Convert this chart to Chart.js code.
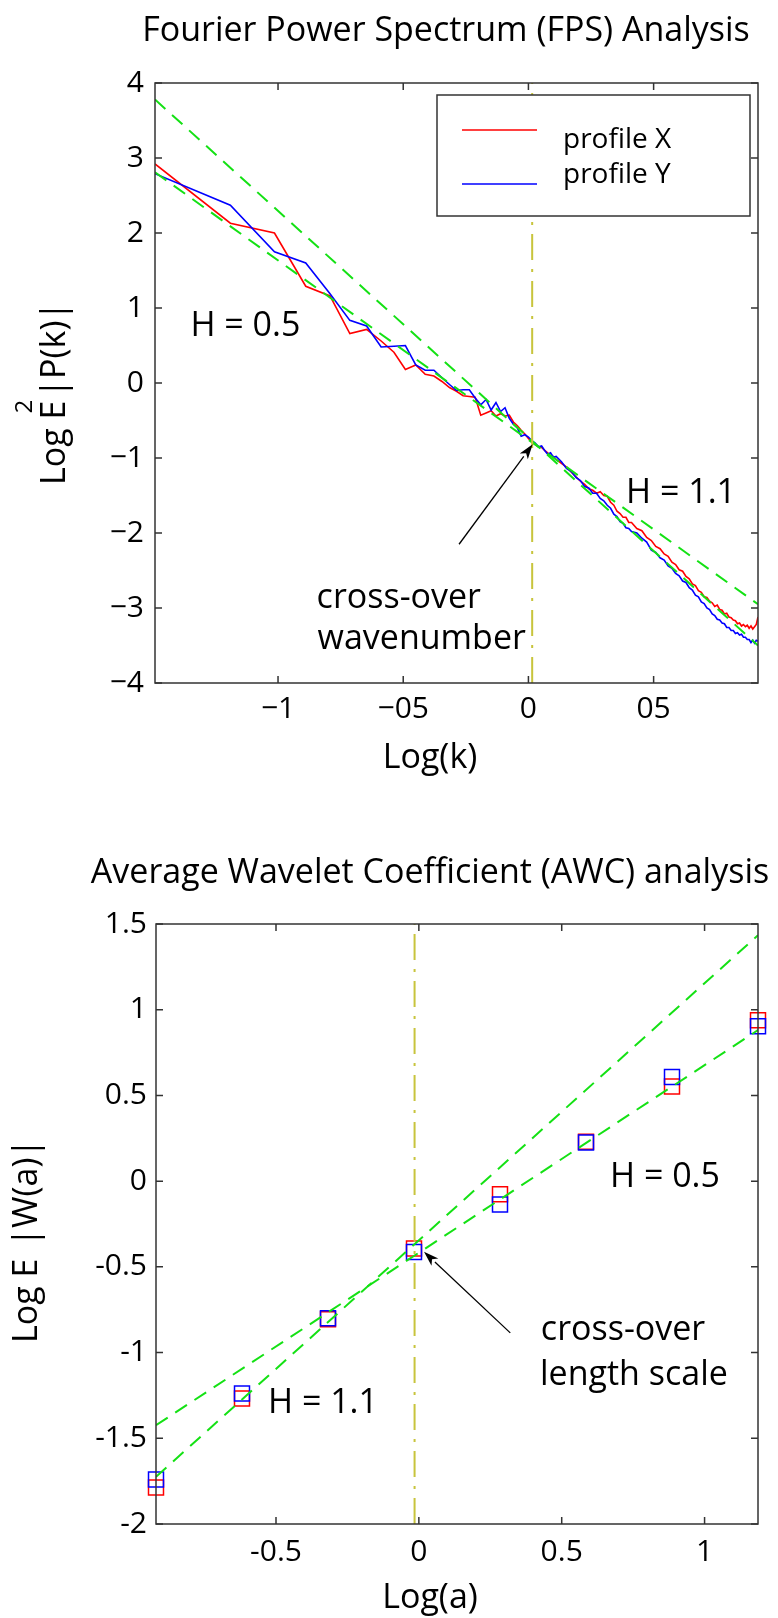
<!DOCTYPE html>
<html>
<head>
<meta charset="utf-8">
<title>FPS and AWC analysis</title>
<script src="https://cdn.jsdelivr.net/npm/chart.js@4.4.1/dist/chart.umd.min.js"></script>
<style>
  html, body { margin: 0; padding: 0; background: #fff; }
  #wrap { position: relative; width: 778px; height: 1618px; }
  canvas { position: absolute; left: 0; }
  #fps { top: 0; width: 778px; height: 790px; }
  #awc { top: 790px; width: 778px; height: 828px; }
</style>
</head>
<body>
<div id="wrap">
  <canvas id="fps" width="778" height="790"></canvas>
  <canvas id="awc" width="778" height="828"></canvas>
</div>
<script>
// ---- Fourier power spectrum: wavenumber index n, k = n / 31 ----
const waveIndex = [1, 2, 3, 4, 5, 6, 7, 8, 9, 10, 11, 12, 13, 14, 15, 16, 17, 18, 19, 20,
  21, 22, 23, 24, 25, 26, 27, 28, 29, 30, 31, 32, 33, 34, 35, 36, 37, 38, 39, 40,
  42, 44, 46, 48, 50, 52, 54, 56, 58, 60, 62, 64, 66, 68, 70, 72, 74, 76, 78, 80,
  84, 88, 92, 96, 100, 104, 108, 112, 116, 120, 124, 128, 132, 136, 140, 144, 148, 152, 156, 160,
  164, 168, 172, 176, 180, 184, 188, 192, 196, 200, 204, 208, 212, 216, 220, 224, 228, 232, 236, 240,
  244, 248, 252, 256];

const profileX = [2.92, 2.13, 2.00, 1.29, 1.16, 0.66, 0.715, 0.56, 0.41, 0.18,
  0.24, 0.115, 0.093, 0.02, -0.06, -0.11, -0.17, -0.18, -0.19, -0.43,
  -0.40, -0.37, -0.44, -0.41, -0.44, -0.43, -0.52, -0.57, -0.63, -0.68,
  -0.74, -0.79, -0.82, -0.85, -0.86, -0.90, -0.93, -0.97, -0.98, -1.02,
  -1.07, -1.12, -1.19, -1.25, -1.31, -1.35, -1.41, -1.43, -1.47, -1.45,
  -1.50, -1.51, -1.59, -1.63, -1.71, -1.74, -1.79, -1.79, -1.86, -1.86,
  -1.94, -1.97, -2.06, -2.10, -2.18, -2.21, -2.28, -2.31, -2.39, -2.42,
  -2.49, -2.51, -2.58, -2.61, -2.68, -2.70, -2.77, -2.79, -2.85, -2.86,
  -2.91, -2.93, -2.98, -2.96, -3.02, -3.03, -3.08, -3.07, -3.12, -3.13,
  -3.16, -3.17, -3.21, -3.20, -3.24, -3.22, -3.25, -3.23, -3.27, -3.24,
  -3.28, -3.25, -3.22, -3.12];

const profileY = [2.79, 2.37, 1.75, 1.60, 1.19, 0.835, 0.76, 0.48, 0.49, 0.50,
  0.24, 0.17, 0.17, 0.07, -0.02, -0.10, -0.09, -0.09, -0.20, -0.29,
  -0.22, -0.36, -0.26, -0.38, -0.33, -0.47, -0.55, -0.60, -0.71, -0.69,
  -0.72, -0.77, -0.80, -0.85, -0.84, -0.90, -0.95, -0.93, -0.99, -0.98,
  -1.05, -1.14, -1.18, -1.26, -1.30, -1.38, -1.40, -1.47, -1.47, -1.54,
  -1.57, -1.63, -1.67, -1.75, -1.78, -1.85, -1.87, -1.93, -1.94, -1.98,
  -2.00, -2.07, -2.12, -2.23, -2.26, -2.33, -2.36, -2.44, -2.47, -2.54,
  -2.57, -2.64, -2.66, -2.73, -2.76, -2.83, -2.85, -2.92, -2.94, -3.00,
  -3.02, -3.08, -3.10, -3.15, -3.16, -3.20, -3.21, -3.26, -3.26, -3.30,
  -3.30, -3.34, -3.33, -3.36, -3.35, -3.39, -3.39, -3.42, -3.42, -3.46,
  -3.43, -3.47, -3.43, -3.44];

// fitted power laws, end points at the axis limits
const fpsFitX = [-1.4914, 0.9169];
const fpsFitSteep = [3.78, -3.50];
const fpsFitShallow = [2.81, -2.95];
const fpsCrossover = 0.015;

const fpsXTicks = [-1, -0.5, 0, 0.5];
const fpsXTickLabels = ['−1', '−05', '0', '05'];
const fpsYTicks = [-4, -3, -2, -1, 0, 1, 2, 3, 4];
const fpsYTickLabels = ['−4', '−3', '−2', '−1', '0', '1', '2', '3', '4'];

// ---- Average wavelet coefficients per scale ----
const logScale = [-0.92, -0.619, -0.318, -0.017, 0.284, 0.585, 0.886, 1.187];
const awcX = [-1.787, -1.268, -0.805, -0.393, -0.076, 0.230, 0.552, 0.939];
const awcY = [-1.740, -1.239, -0.800, -0.414, -0.136, 0.225, 0.607, 0.904];

const awcFitX = [-0.92, 1.187];
const awcFitSteep = [-1.725, 1.435];
const awcFitShallow = [-1.424, 0.881];
const awcCrossover = -0.015;

const awcXTicks = [-0.5, 0, 0.5, 1];
const awcXTickLabels = ['-0.5', '0', '0.5', '1'];
const awcYTicks = [-2, -1.5, -1, -0.5, 0, 0.5, 1, 1.5];
const awcYTickLabels = ['-2', '-1.5', '-1', '-0.5', '0', '0.5', '1', '1.5'];

// ---- styling ----
const FONT = "'Open Sans', sans-serif";
const RED = '#ff0000';
const BLUE = '#0000ff';
const GREEN = 'rgb(20, 225, 20)';
const YELLOW = 'rgb(200, 196, 60)';

const pts = (xs, ys) => xs.map((x, i) => ({ x: x, y: ys[i] }));
const logK = waveIndex.map(n => Math.log10(n / 31));

function axis(min, max, ticks, labels, pad, fit) {
  return {
    type: 'linear',
    min: min,
    max: max,
    grid: { display: false, drawTicks: false },
    border: { display: false },
    ticks: {
      color: '#000',
      font: { family: FONT, size: 30 },
      padding: pad,
      autoSkip: false,
      maxRotation: 0,
      callback: (v, i) => labels[i]
    },
    afterBuildTicks: s => { s.ticks = ticks.map(v => ({ value: v })); },
    afterFit: fit
  };
}

function drawArrow(ctx, x0, y0, x1, y1) {
  const a = Math.atan2(y1 - y0, x1 - x0);
  const len = 15, half = 5;
  const bx = x1 - len * Math.cos(a), by = y1 - len * Math.sin(a);
  ctx.beginPath();
  ctx.moveTo(x0, y0);
  ctx.lineTo(bx, by);
  ctx.stroke();
  ctx.beginPath();
  ctx.moveTo(x1, y1);
  ctx.lineTo(bx + half * Math.sin(a), by - half * Math.cos(a));
  ctx.lineTo(bx + 4 * Math.cos(a), by + 4 * Math.sin(a));
  ctx.lineTo(bx - half * Math.sin(a), by + half * Math.cos(a));
  ctx.closePath();
  ctx.fill();
}

// rotated axis title: "Log E", optional superscript over the E, then the modulus
function drawYTitle(ctx, t) {
  ctx.save();
  ctx.translate(t.x, t.y);
  ctx.rotate(-Math.PI / 2);
  ctx.textAlign = 'left';
  ctx.font = '34px ' + FONT;
  const head = 'Log E';
  const wHead = ctx.measureText(head).width;
  const wE = ctx.measureText('E').width;
  ctx.fillText(head, 0, 0);
  ctx.fillText(t.tail, wHead + t.gap, 0);
  if (t.sup) {
    ctx.font = '24px ' + FONT;
    ctx.fillText(t.sup, wHead - wE + 6, -33);
  }
  ctx.restore();
}

// box, inward ticks, annotations, titles and (optionally) a legend
function decor(cfg) {
  return {
    id: 'decor',
    afterDraw(chart) {
      const ctx = chart.ctx, a = chart.chartArea;
      const x = chart.scales.x, y = chart.scales.y;
      ctx.save();

      ctx.strokeStyle = '#333';
      ctx.lineWidth = 1.5;
      ctx.strokeRect(a.left, a.top, a.right - a.left, a.bottom - a.top);
      ctx.beginPath();
      x.ticks.forEach(t => {
        const px = x.getPixelForValue(t.value);
        ctx.moveTo(px, a.bottom); ctx.lineTo(px, a.bottom - 7);
        ctx.moveTo(px, a.top); ctx.lineTo(px, a.top + 7);
      });
      y.ticks.forEach(t => {
        const py = y.getPixelForValue(t.value);
        ctx.moveTo(a.left, py); ctx.lineTo(a.left + 7, py);
        ctx.moveTo(a.right, py); ctx.lineTo(a.right - 7, py);
      });
      ctx.stroke();

      // arrow to the cross-over point
      ctx.strokeStyle = '#000';
      ctx.fillStyle = '#000';
      ctx.lineWidth = 1.3;
      const ar = cfg.arrow;
      drawArrow(ctx, x.getPixelForValue(ar[0]), y.getPixelForValue(ar[1]),
        x.getPixelForValue(ar[2]), y.getPixelForValue(ar[3]));

      ctx.font = '34px ' + FONT;
      ctx.textBaseline = 'alphabetic';
      ctx.textAlign = 'left';
      cfg.notes.forEach(n => {
        ctx.fillText(n.text, x.getPixelForValue(n.x), y.getPixelForValue(n.y));
      });

      ctx.textAlign = 'center';
      ctx.fillText(cfg.title[0], cfg.title[1], cfg.title[2]);
      ctx.fillText(cfg.xTitle[0], cfg.xTitle[1], cfg.xTitle[2]);

      drawYTitle(ctx, cfg.yTitle);

      if (cfg.legend) {
        const bx = a.right - 321, by = a.top + 12;
        ctx.fillStyle = '#fff';
        ctx.fillRect(bx, by, 313, 121);
        ctx.strokeStyle = '#333';
        ctx.lineWidth = 1.5;
        ctx.strokeRect(bx, by, 313, 121);
        ctx.font = '28px ' + FONT;
        ctx.textAlign = 'left';
        cfg.legend.forEach(item => {
          ctx.strokeStyle = item.color;
          ctx.lineWidth = 1.6;
          ctx.beginPath();
          ctx.moveTo(bx + 25, by + item.lineY);
          ctx.lineTo(bx + 100, by + item.lineY);
          ctx.stroke();
          ctx.fillStyle = '#000';
          ctx.fillText(item.label, bx + 126, by + item.textY);
        });
      }
      ctx.restore();
    }
  };
}

const common = {
  responsive: false,
  animation: false,
  devicePixelRatio: 1,
  events: [],
  plugins: { legend: { display: false }, tooltip: { enabled: false } }
};

// ---- FPS chart ----
new Chart(document.getElementById('fps'), {
  type: 'scatter',
  data: {
    datasets: [
      { label: 'cross-over', data: pts([fpsCrossover, fpsCrossover], [-4, 4]), showLine: true,
        borderColor: YELLOW, borderWidth: 2, borderDash: [26, 9, 3, 9], pointRadius: 0, order: 0 },
      { label: 'fit H = 1.1', data: pts(fpsFitX, fpsFitSteep), showLine: true,
        borderColor: GREEN, borderWidth: 2, borderDash: [14, 9], pointRadius: 0, order: 1 },
      { label: 'fit H = 0.5', data: pts(fpsFitX, fpsFitShallow), showLine: true,
        borderColor: GREEN, borderWidth: 2, borderDash: [14, 9], pointRadius: 0, order: 1 },
      { label: 'profile Y', data: pts(logK, profileY), showLine: true,
        borderColor: BLUE, borderWidth: 1.6, pointRadius: 0, order: 2 },
      { label: 'profile X', data: pts(logK, profileX), showLine: true,
        borderColor: RED, borderWidth: 1.6, pointRadius: 0, order: 3 }
    ]
  },
  options: Object.assign({}, common, {
    layout: { padding: { top: 83, right: 20, left: 0, bottom: 0 } },
    scales: {
      x: axis(logK[0], logK[logK.length - 1], fpsXTicks, fpsXTickLabels, 8, s => { s.height = 107; }),
      y: axis(-4, 4, fpsYTicks, fpsYTickLabels, 11, s => { s.width = 155; })
    }
  }),
  plugins: [decor({
    title: ['Fourier Power Spectrum (FPS) Analysis', 446, 41],
    xTitle: ['Log(k)', 430, 768],
    yTitle: { x: 65, y: 485, tail: '|P(k)|', gap: 3, sup: '2' },
    notes: [
      { text: 'H = 0.5', x: -1.35, y: 0.627 },
      { text: 'H = 1.1', x: 0.39, y: -1.6 },
      { text: 'cross-over', x: -0.846, y: -3.0 },
      { text: 'wavenumber', x: -0.842, y: -3.547 }
    ],
    arrow: [-0.277, -2.15, 0.017, -0.817],
    legend: [
      { label: 'profile X', color: RED, lineY: 35, textY: 53 },
      { label: 'profile Y', color: BLUE, lineY: 89, textY: 88 }
    ]
  })]
});

// ---- AWC chart ----
new Chart(document.getElementById('awc'), {
  type: 'scatter',
  data: {
    datasets: [
      { label: 'cross-over', data: pts([awcCrossover, awcCrossover], [-2, 1.5]), showLine: true,
        borderColor: YELLOW, borderWidth: 2, borderDash: [26, 9, 3, 9], pointRadius: 0, order: 0 },
      { label: 'fit H = 1.1', data: pts(awcFitX, awcFitSteep), showLine: true,
        borderColor: GREEN, borderWidth: 2, borderDash: [14, 9], pointRadius: 0, order: 1 },
      { label: 'fit H = 0.5', data: pts(awcFitX, awcFitShallow), showLine: true,
        borderColor: GREEN, borderWidth: 2, borderDash: [14, 9], pointRadius: 0, order: 1 },
      { label: 'profile Y', data: pts(logScale, awcY), pointStyle: 'rect', pointRadius: 10.6,
        borderColor: BLUE, backgroundColor: 'rgba(0,0,0,0)', borderWidth: 1.5, clip: false, order: 2 },
      { label: 'profile X', data: pts(logScale, awcX), pointStyle: 'rect', pointRadius: 10.6,
        borderColor: RED, backgroundColor: 'rgba(0,0,0,0)', borderWidth: 1.5, clip: false, order: 3 }
    ]
  },
  options: Object.assign({}, common, {
    layout: { padding: { top: 134, right: 20, left: 0, bottom: 0 } },
    scales: {
      x: axis(logScale[0], logScale[logScale.length - 1], awcXTicks, awcXTickLabels, 10, s => { s.height = 94; }),
      y: axis(-2, 1.5, awcYTicks, awcYTickLabels, 9, s => { s.width = 156; })
    }
  }),
  plugins: [decor({
    title: ['Average Wavelet Coefficient (AWC) analysis', 430, 93],
    xTitle: ['Log(a)', 430, 818],
    yTitle: { x: 37, y: 553, tail: '|W(a)|', gap: 12 },
    notes: [
      { text: 'H = 0.5', x: 0.669, y: -0.035 },
      { text: 'H = 1.1', x: -0.528, y: -1.354 },
      { text: 'cross-over', x: 0.427, y: -0.928 },
      { text: 'length scale', x: 0.424, y: -1.19 }
    ],
    arrow: [0.320, -0.885, 0.018, -0.412]
  })]
});
</script>
</body>
</html>
